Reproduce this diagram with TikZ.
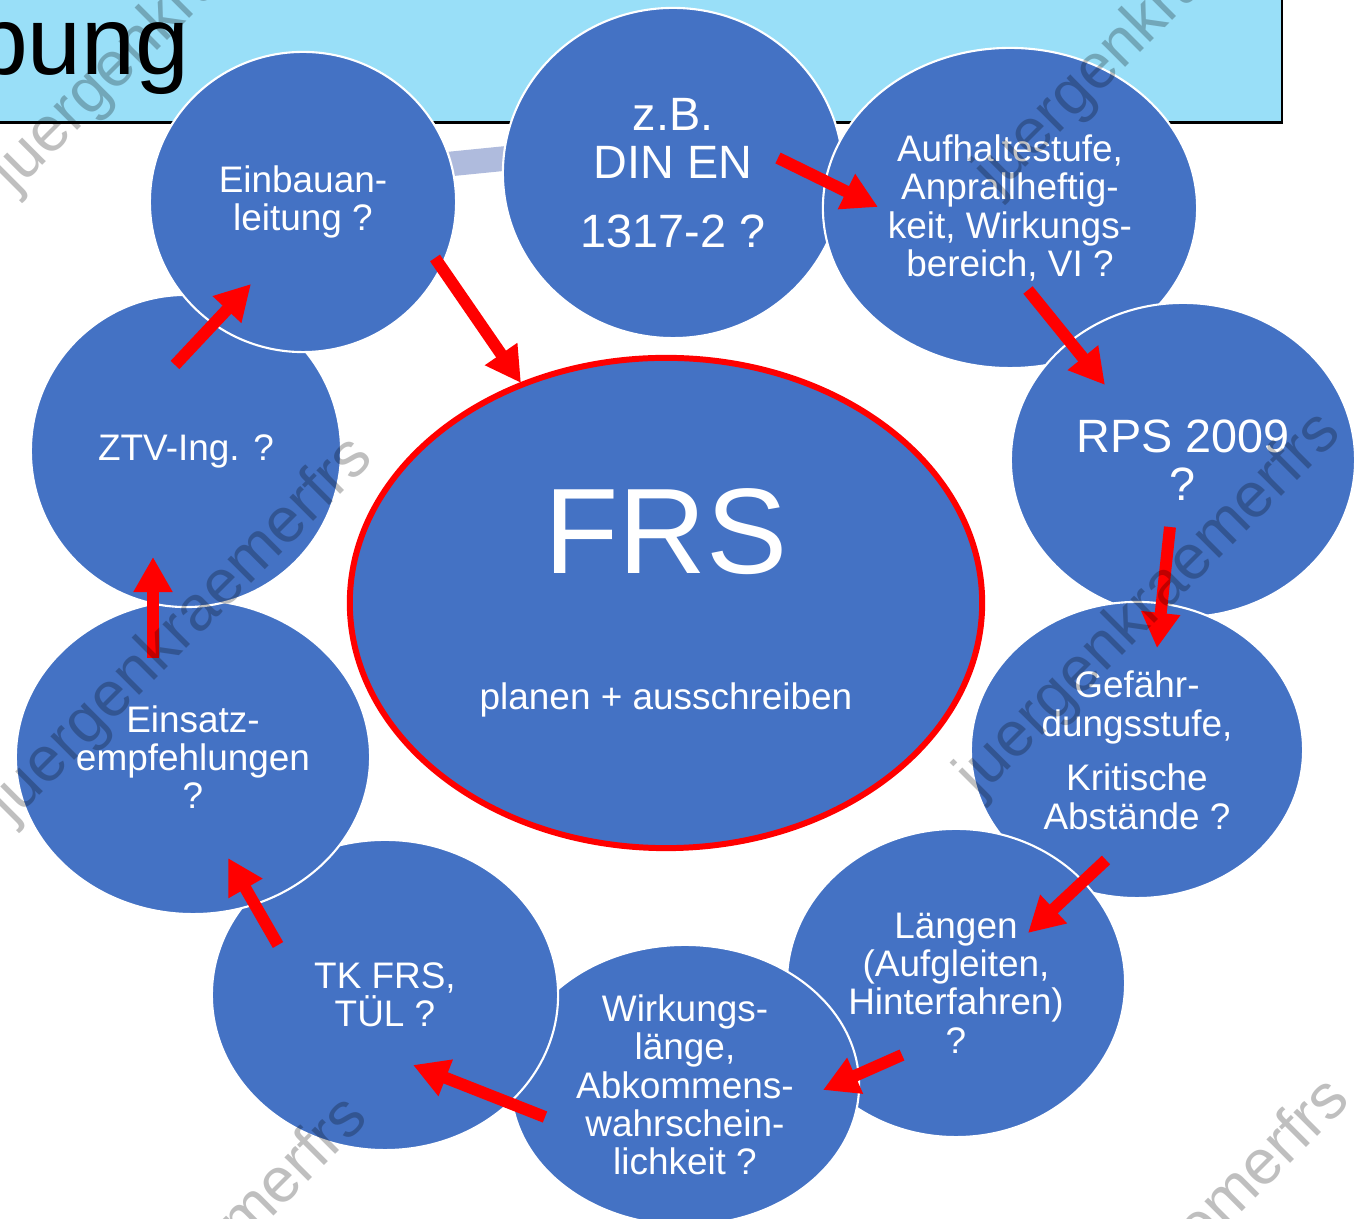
\documentclass[tikz,border=0pt]{standalone}
\usepackage{fontspec}
\setmainfont{Liberation Sans}
\usetikzlibrary{shapes.geometric,arrows.meta}
\definecolor{bubblue}{HTML}{4472C4}
\definecolor{titleblue}{HTML}{99DFF8}
\definecolor{ringgray}{HTML}{AFBBDD}
\definecolor{arrred}{HTML}{FF0000}
\begin{document}
\begin{tikzpicture}[x=0.01cm,y=-0.01cm,
  bub/.style={ellipse, fill=bubblue, draw=white, line width=0.6pt, inner sep=0pt,
    text=white, align=center, font=\fontsize{10.5}{10.9}\selectfont},
  bigbub/.style={bub, font=\fontsize{13.3}{13.7}\selectfont},
  redarr/.style={draw=arrred, line width=3.4pt, -{Triangle[length=10pt,width=10.5pt]}},
  wmark/.style={rotate=45, text=black, text opacity=0.25, font=\fontsize{18}{18}\selectfont}
]
\useasboundingbox (0,0) rectangle (1365,1219);
\begin{scope}
\clip (0,0) rectangle (1365,1219);
% title bar
\fill[titleblue] (-20,-20) rectangle (1282,123);
\draw[line width=0.85pt] (-20,123) -- (1282,123) -- (1282,-20);
\node[anchor=base east, font=\fontsize{27.5}{27.5}\selectfont, inner sep=0pt] (title) at (190,75) {bung};
% ring band
\draw[ringgray, line width=7pt] (430,166) -- (530,156);
% bubbles
\node[bigbub, minimum width=3.40cm, minimum height=3.30cm] (zb) at (673,173) {z.B.\\DIN EN\\[6pt]1317-2 ?};
\node[bub, minimum width=3.74cm, minimum height=3.20cm] (aufh) at (1010,208) {Aufhaltestufe,\\Anprallheftig-\\keit, Wirkungs-\\bereich, VI ?};
\node[bigbub, minimum width=3.44cm, minimum height=3.14cm] (rps) at (1183,460) {RPS 2009\\?};
\node[bub, minimum width=3.32cm, minimum height=2.96cm, font=\fontsize{10.5}{11.05}\selectfont] (gef) at (1137,750) {Gefähr-\\dungsstufe,\\[4.3pt]Kritische\\Abstände ?};
\node[bub, minimum width=3.38cm, minimum height=3.08cm] (laeng) at (956,983) {Längen\\(Aufgleiten,\\Hinterfahren)\\?};
\node[bub, minimum width=3.48cm, minimum height=2.80cm] (wirk) at (685,1085) {Wirkungs-\\länge,\\Abkommens-\\wahrschein-\\lichkeit ?};
\node[bub, minimum width=3.46cm, minimum height=3.10cm] (tk) at (385,995) {TK FRS,\\TÜL ?};
\node[bub, minimum width=3.54cm, minimum height=3.14cm] (einsatz) at (193,757) {Einsatz-\\empfehlungen\\?};
\node[bub, minimum width=3.10cm, minimum height=3.12cm] (ztv) at (186,451) {ZTV-Ing. ?};
\node[bub, minimum width=3.06cm, minimum height=3.00cm] (einbau) at (303,202) {Einbauan-\\leitung ?};
% centre
\node[ellipse, fill=bubblue, draw=arrred, line width=1.7pt, minimum width=6.32cm, minimum height=4.90cm, inner sep=0pt] (frs) at (666,603) {};
\node[text=white, inner sep=0pt, font=\fontsize{34.6}{34.6}\selectfont] (frstitle) at (666,532) {FRS};
\node[text=white, inner sep=0pt, font=\fontsize{10.5}{10.9}\selectfont] (frssub) at (666,700) {planen + ausschreiben};
% arrows
\coordinate (a1s) at (435,258); \coordinate (a1e) at (521,383);
\coordinate (a2s) at (778,158); \coordinate (a2e) at (878,207);
\coordinate (a3s) at (1028,290); \coordinate (a3e) at (1105,385);
\coordinate (a4s) at (1170,527); \coordinate (a4e) at (1157,648);
\coordinate (a5s) at (1106,860); \coordinate (a5e) at (1028,933);
\coordinate (a6s) at (902,1055); \coordinate (a6e) at (823,1090);
\coordinate (a7s) at (545,1117); \coordinate (a7e) at (413,1065);
\coordinate (a8s) at (278,945); \coordinate (a8e) at (228,858);
\coordinate (a9s) at (153,658); \coordinate (a9e) at (153,557);
\coordinate (a10s) at (175,365); \coordinate (a10e) at (251,284);
\foreach \i in {1,...,10} {\draw[redarr] (a\i s) -- (a\i e);}
% watermarks
\foreach \p/\n in {{(185,0)}/w1,{(1168,2)}/w2,{(182,630)}/w3,{(1150,605)}/w4,{(177,1290)}/w5,{(1159,1272)}/w6}
  {\node[wmark] (\n) at \p {juergenkraemerfrs};}
\end{scope}
\end{tikzpicture}
\end{document}
